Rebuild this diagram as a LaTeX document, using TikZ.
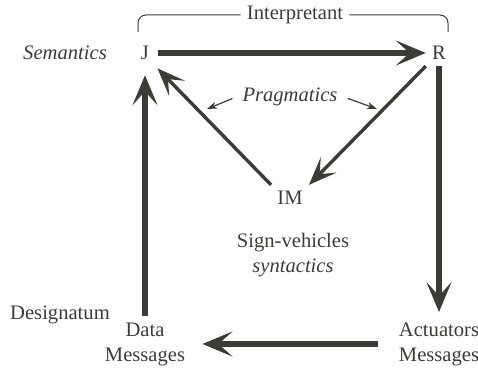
\documentclass[tikz,border=0pt]{standalone}
\usepackage{fontspec}
\setmainfont{LiberationSerif}[Extension=.ttf, UprightFont=*-Regular, ItalicFont=*-Italic, BoldFont=*-Bold, BoldItalicFont=*-BoldItalic]
\usepackage{xcolor}
\usepackage{tikz}
\usetikzlibrary{arrows.meta, positioning}
\definecolor{ink}{RGB}{60,60,55}

\begin{document}
\begin{tikzpicture}[node distance=147pt]
\tikzstyle{word} = [inner sep=3pt, text=ink, align=center, font=\fontsize{10.3}{12.5}\selectfont]
\tikzstyle{gloss} = [word, font=\fontsize{10.3}{12.5}\selectfont\itshape]
\tikzstyle{bigarrow} = [draw=ink, line width=2.6pt, -{Stealth[length=15pt, width=12.5pt, inset=7pt]}]
\tikzstyle{midarrow} = [draw=ink, line width=1.7pt, -{Stealth[length=14pt, width=11pt, inset=6.5pt]}]
\tikzstyle{thinarrow} = [draw=ink, line width=0.6pt, -{Stealth[length=5pt, width=3.5pt, inset=1.5pt]}]
\tikzstyle{bracket} = [draw=ink, line width=0.5pt, rounded corners=4pt]

\useasboundingbox (0,0) rectangle (239pt,-184pt);

% Corners of the square
\node (j) [word] at (72.5pt,-26.5pt) {J};
\node (r) [word, right of=j] {R};
\node (data) [word, below of=j, yshift=1.5pt] {Data\\Messages};
\node (act) [word, below of=r, yshift=1.5pt] {Actuators\\Messages};
\node (im) [word, below of=j, xshift=72.5pt, yshift=74.5pt] {IM};

% Labels
\node (sem) [gloss, left of=j, node distance=40pt] {Semantics};
\node (desig) [word, left of=data, node distance=42.5pt, yshift=14.5pt] {Designatum};
\node (prag) [gloss, above of=im, node distance=50.5pt] {Pragmatics};
\node (signs) [word, below of=im, node distance=28.5pt, xshift=1.5pt] {Sign-vehicles\\\textit{syntactics}};
\node (interp) [word, above of=j, node distance=19pt, xshift=75pt] {Interpretant};

% Bracket and pointer ends
\coordinate (bl) at (69pt,-16pt);
\coordinate (br) at (224pt,-16pt);
\coordinate (pl) at (103.5pt,-54.5pt);
\coordinate (pr) at (188.5pt,-54.5pt);

\draw [bracket] (bl) |- (interp.west);
\draw [bracket] (interp.east) -| (br);

% Arrows
\draw [bigarrow, shorten <=1.5pt] (j) -- (r);
\draw [bigarrow, shorten >=2pt] (r) -- (act);
\draw [bigarrow, shorten <=7.5pt, shorten >=5.5pt] (act) -- (data);
\draw [bigarrow, shorten >=4.5pt] (data) -- (j);
\draw [midarrow, shorten >=1.5pt] (im.north west) -- (j.south east);
\draw [midarrow] (r.south west) -- (im.north east);
\draw [thinarrow, shorten <=2pt] (prag.west) -- (pl);
\draw [thinarrow, shorten <=2pt] (prag.east) -- (pr);
\end{tikzpicture}
\end{document}
